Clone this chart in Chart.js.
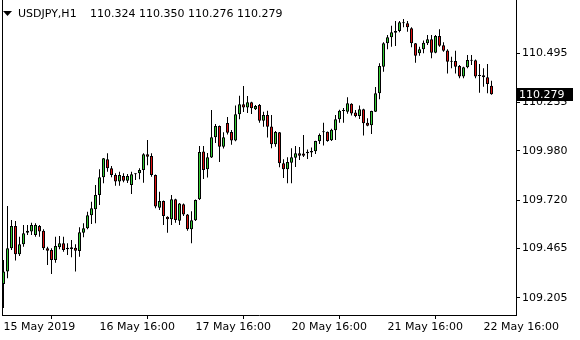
<!DOCTYPE html>
<html><head><meta charset="utf-8">
<script src="https://cdn.jsdelivr.net/npm/chart.js@4.4.1/dist/chart.umd.min.js"></script>
<style>html,body{margin:0;padding:0;background:#fff;overflow:hidden}canvas{display:block}</style>
</head><body>
<canvas id="c" width="580" height="340"></canvas>
<script>
const symbol = 'USDJPY,H1';
const opens = [109.278,109.343,109.466,109.584,109.434,109.487,109.548,109.554,109.536,109.584,
109.559,109.466,109.457,109.404,109.471,109.492,109.469,109.462,109.469,109.452,
109.548,109.572,109.640,109.672,109.747,109.841,109.936,109.888,109.853,109.818,
109.848,109.823,109.800,109.857,109.862,109.879,109.962,109.953,109.853,109.680,
109.716,109.633,109.619,109.725,109.612,109.698,109.645,109.566,109.614,109.725,
109.977,109.883,109.945,110.052,110.111,110.002,110.127,110.080,110.035,110.174,
110.226,110.209,110.237,110.200,110.222,110.139,110.169,110.109,110.015,110.078,
109.915,109.883,109.918,109.944,109.967,109.966,109.968,109.971,109.978,110.031,
110.078,110.081,110.036,110.089,110.147,110.191,110.187,110.229,110.182,110.164,
110.200,110.129,110.115,110.187,110.284,110.424,110.548,110.580,110.604,110.613,
110.659,110.653,110.627,110.548,110.495,110.516,110.548,110.569,110.498,110.586,
110.537,110.510,110.454,110.454,110.428,110.372,110.421,110.460,110.458,110.375,
110.379,110.368,110.324];
const highs = [109.404,109.689,109.615,109.610,109.527,109.589,109.589,109.601,109.598,109.589,
109.566,109.474,109.466,109.527,109.531,109.527,109.492,109.510,109.487,109.577,
109.598,109.659,109.712,109.800,109.883,109.943,109.967,109.900,109.862,109.870,
109.862,109.858,109.870,109.862,109.888,109.967,110.038,109.967,109.855,109.765,
109.718,109.635,109.747,109.727,109.705,109.703,109.647,109.661,109.723,110.006,
110.006,109.969,110.196,110.122,110.114,110.078,110.159,110.090,110.220,110.271,
110.323,110.270,110.240,110.222,110.228,110.187,110.192,110.169,110.085,110.080,
109.936,109.946,109.994,110.006,110.001,110.064,109.988,109.998,110.034,110.072,
110.129,110.083,110.097,110.169,110.197,110.206,110.263,110.231,110.196,110.220,
110.202,110.152,110.192,110.317,110.442,110.553,110.592,110.641,110.666,110.666,
110.676,110.666,110.632,110.550,110.530,110.562,110.592,110.592,110.592,110.622,
110.553,110.516,110.477,110.509,110.433,110.424,110.486,110.486,110.462,110.439,
110.416,110.439,110.350];
const lows = [109.151,109.308,109.457,109.401,109.425,109.474,109.536,109.536,109.527,109.527,
109.457,109.378,109.330,109.390,109.461,109.448,109.431,109.419,109.343,109.422,
109.524,109.566,109.594,109.598,109.695,109.809,109.870,109.841,109.796,109.796,
109.814,109.811,109.753,109.826,109.830,109.812,109.904,109.844,109.677,109.668,
109.589,109.548,109.589,109.601,109.589,109.636,109.559,109.492,109.610,109.721,
109.832,109.839,109.943,110.022,109.921,109.993,110.066,110.013,110.031,110.147,
110.185,110.180,110.175,110.196,110.129,110.108,110.051,109.994,110.002,109.894,
109.837,109.809,109.809,109.895,109.932,109.948,109.937,109.948,109.964,110.016,
110.008,110.028,110.032,110.038,110.129,110.129,110.176,110.167,110.157,110.148,
110.061,110.110,110.069,110.185,110.252,110.398,110.516,110.530,110.534,110.606,
110.632,110.609,110.527,110.445,110.482,110.495,110.539,110.469,110.495,110.530,
110.503,110.389,110.416,110.389,110.363,110.363,110.416,110.433,110.363,110.287,
110.319,110.284,110.276];
const closes = [109.343,109.466,109.584,109.434,109.487,109.545,109.559,109.589,109.589,109.554,
109.466,109.453,109.404,109.478,109.492,109.457,109.461,109.471,109.453,109.551,
109.572,109.640,109.677,109.747,109.841,109.941,109.888,109.853,109.818,109.853,
109.823,109.848,109.857,109.860,109.879,109.962,109.949,109.853,109.686,109.716,
109.636,109.619,109.725,109.615,109.703,109.645,109.566,109.614,109.721,109.974,
109.879,109.946,110.052,110.111,110.002,110.052,110.076,110.035,110.174,110.226,
110.209,110.237,110.205,110.217,110.139,110.169,110.108,110.015,110.080,109.915,
109.883,109.921,109.946,109.967,109.955,109.955,109.976,109.980,110.032,110.064,
110.080,110.032,110.092,110.147,110.192,110.196,110.231,110.178,110.164,110.200,
110.126,110.113,110.191,110.284,110.428,110.548,110.580,110.606,110.613,110.659,
110.653,110.632,110.548,110.482,110.516,110.551,110.569,110.498,110.586,110.535,
110.509,110.451,110.451,110.424,110.372,110.421,110.460,110.456,110.372,110.379,
110.368,110.333,110.279];
const xTickBars = [0,24,48,72,96,120];
const xTickLabels = ['15 May 2019','16 May 16:00','17 May 16:00','20 May 16:00','21 May 16:00','22 May 16:00'];
const yTickValues = [110.495,110.235,109.980,109.720,109.465,109.205];
const yTickLabels = ['110.495','110.235','109.980','109.720','109.465','109.205'];

const bullColor = '#33cc33', bearColor = '#e01010';
const FONT = 'DejaVu Sans';
Chart.defaults.font.family = FONT;
Chart.defaults.font.size = 11;
Chart.defaults.color = '#000';

const bodies = opens.map((o,i)=>({x:i, y:[o, closes[i]]}));
const wicks = highs.map((h,i)=>({x:i, y:[lows[i], h]}));

const decor = {
  id:'decor',
  afterDraw(chart){
    const ctx = chart.ctx, ca = chart.chartArea, ys = chart.scales.y;
    ctx.save();
    // left frame
    ctx.strokeStyle = '#000'; ctx.lineWidth = 1;
    ctx.beginPath(); ctx.moveTo(2.5, 0); ctx.lineTo(2.5, ca.bottom + 0.5); ctx.stroke();
    // header
    ctx.fillStyle = '#000';
    ctx.beginPath(); ctx.moveTo(3,11); ctx.lineTo(12,11); ctx.lineTo(7.5,16); ctx.closePath(); ctx.fill();
    ctx.font = '11px "' + FONT + '"';
    ctx.textBaseline = 'alphabetic'; ctx.textAlign = 'left';
    const n = closes.length - 1;
    ctx.fillText(symbol, 18, 17);
    ctx.fillText([opens[n], highs[n], lows[n], closes[n]].map(v=>v.toFixed(3)).join(' '), 90, 17);
    // last price label
    const y = ys.getPixelForValue(closes[n]);
    ctx.fillStyle = '#000';
    ctx.fillRect(ca.right + 1, Math.round(y - 6.5), 56, 13);
    ctx.fillStyle = '#fff';
    ctx.textBaseline = 'middle';
    ctx.fillText(closes[n].toFixed(3), ca.right + 3, y + 0.5);
    ctx.restore();
  }
};

new Chart(document.getElementById('c'), {
  type:'bar',
  data:{datasets:[
    {data:bodies, order:0, barThickness:3, grouped:false,
     backgroundColor: opens.map((o,i)=> closes[i] >= o ? bullColor : bearColor),
     borderColor:'#000', borderWidth:1, borderSkipped:false, inflateAmount:0, minBarLength:1},
    {data:wicks, order:1, barThickness:1, grouped:false,
     backgroundColor:'#000', borderWidth:0, inflateAmount:0}
  ]},
  options:{
    responsive:false, animation:false, devicePixelRatio:1, events:[],
    layout:{padding:{left:2, top:0, right:0, bottom:0}},
    plugins:{legend:{display:false}, tooltip:{enabled:false}, title:{display:false}},
    scales:{
      x:{type:'linear', min:-0.375, max:128.125, offset:false,
         grid:{display:true, drawOnChartArea:false, drawTicks:true, tickLength:4, color:'#000'},
         border:{display:true, color:'#000'},
         ticks:{autoSkip:false, maxRotation:0, minRotation:0, align:'start', padding:2, color:'#000',
                callback:(v,i)=>xTickLabels[i]},
         afterBuildTicks:s=>{s.ticks = xTickBars.map(v=>({value:v}));},
         afterFit:s=>{s.height = 25; s.paddingLeft=0; s.paddingRight=0; s.paddingTop=0; s.paddingBottom=0;}
      },
      y:{type:'linear', position:'right', min:109.114, max:110.7763,
         grid:{display:true, drawOnChartArea:false, drawTicks:true, tickLength:4, color:'#000'},
         border:{display:true, color:'#000'},
         ticks:{padding:2, color:'#000', callback:(v,i)=>yTickLabels[i]},
         afterBuildTicks:s=>{s.ticks = yTickValues.map(v=>({value:v}));},
         afterFit:s=>{s.width = 64; s.paddingLeft=0; s.paddingRight=0; s.paddingTop=0; s.paddingBottom=0;}
      }
    }
  },
  plugins:[decor]
});
</script>
</body></html>
